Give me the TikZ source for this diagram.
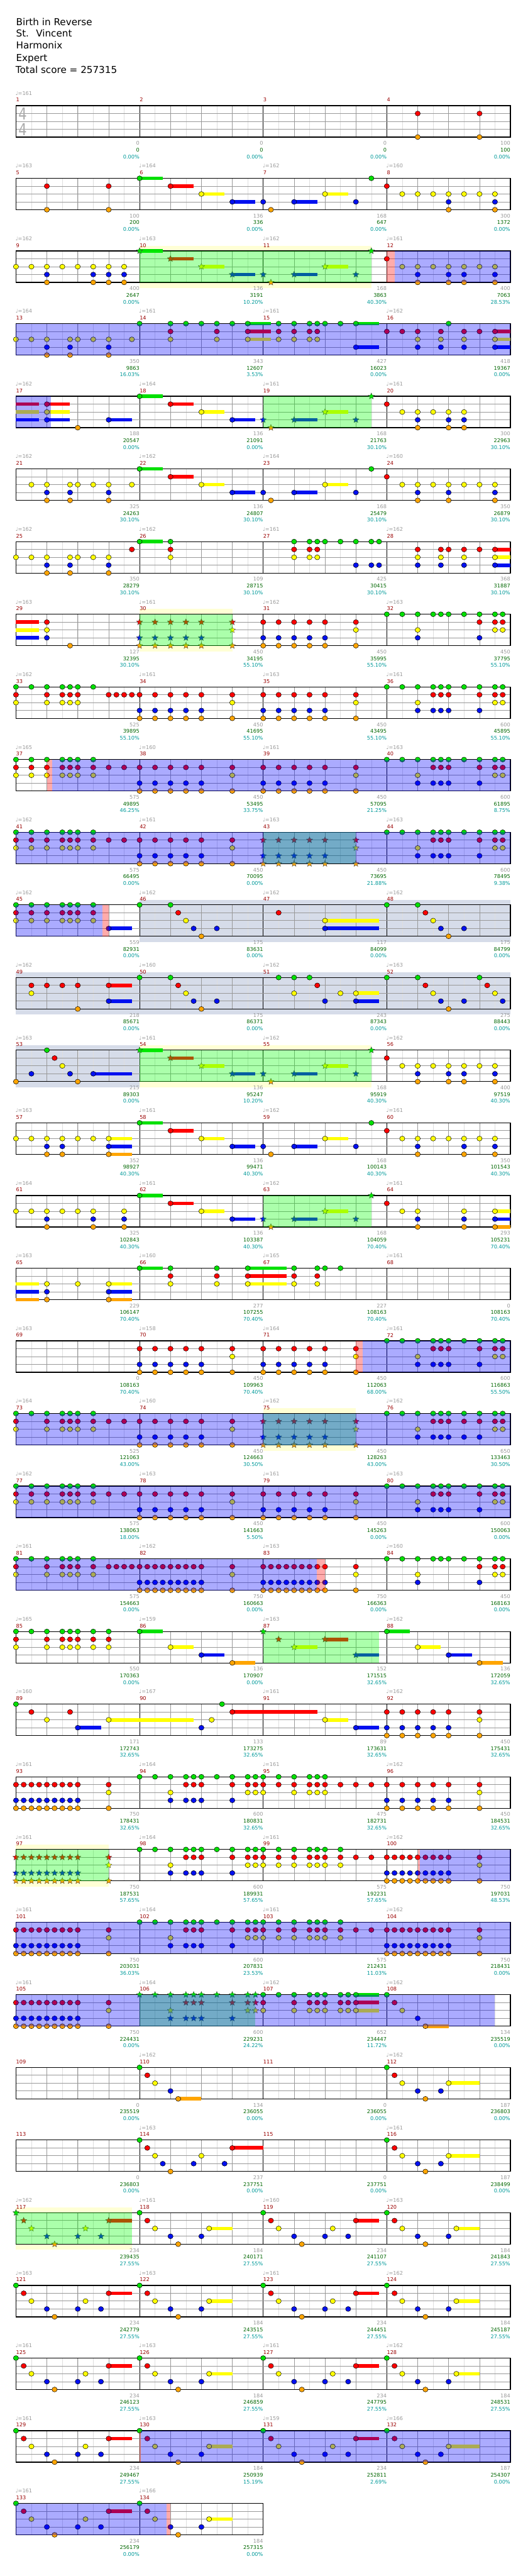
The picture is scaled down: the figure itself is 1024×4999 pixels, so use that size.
\documentclass[tikz,border=0pt]{standalone}
\usepackage{fontspec}
\setmainfont{DejaVu Sans}
\usetikzlibrary{shapes.geometric}

\definecolor{c0}{HTML}{00E000}
\definecolor{c1}{HTML}{FF0000}
\definecolor{c2}{HTML}{FFFF00}
\definecolor{c3}{HTML}{0010F0}
\definecolor{c4}{HTML}{FFA500}
\definecolor{gristxt}{HTML}{999999}
\definecolor{rojotxt}{HTML}{990000}
\definecolor{verdetxt}{HTML}{006600}
\definecolor{cian}{HTML}{009999}
\definecolor{amarillo}{HTML}{FFFFD5}
\definecolor{pizarra}{HTML}{D6DCE9}

% fila actual
\newcommand{\fila}[1]{\pgfmathsetmacro{\ytop}{205+141*(#1-1)}}
% pentagrama de #1 compases
\newcommand{\pista}[1]{%
  \pgfmathtruncatemacro{\nl}{8*#1}%
  \foreach \i in {1,...,\nl} {\draw[octavo] (31+30*\i,\ytop) -- ++(0,61);}%
  \pgfmathtruncatemacro{\nl}{4*#1}%
  \foreach \i in {1,...,\nl} {\draw[negra] (31+60*\i,\ytop) -- ++(0,61);}%
  \foreach \i in {1,...,#1} {\draw[barra] (31+240*\i,\ytop) -- ++(0,61);}%
  \foreach \cc in {1,2,3} {\draw[carril] (31,\ytop+15.25*\cc) -- ++(240*#1,0);}%
  \draw[marco] (31,\ytop) rectangle ++(240*#1,61);%
}
% notas, estrellas y notas largas (carril 0..4, posicion en semicorcheas)
\newcommand{\notas}[2]{\foreach \px in {#2} {\node[nota, fill=c#1] at (31+15*\px,\ytop+15.25*#1) {};}}
\newcommand{\estrellas}[2]{\foreach \px in {#2} {\node[estrella, fill=c#1] at (31+15*\px,\ytop+15.25*#1) {};}}
\newcommand{\sus}[3]{\fill[c#1] (31+15*#2,\ytop+15.25*#1-3.5) rectangle ++(15*#3,7);}
% zonas
\newcommand{\zona}[3]{\fill[#1] (31+15*#2,\ytop) rectangle (31+15*#3,\ytop+61);}
\newcommand{\bandaod}[2]{\fill[amarillo] (31+15*#1,\ytop-10) rectangle (31+15*#2,\ytop);
  \fill[amarillo] (31+15*#1,\ytop+61) rectangle (31+15*#2,\ytop+72);}
\newcommand{\bandagris}[2]{\fill[pizarra] (31+15*#1,\ytop-10) rectangle (31+15*#2,\ytop+72);}
% textos de cada compas
\newcommand{\compas}{%
  \node[numc] at (31+240*\j,\ytop-11) {\nc};
  \ifx\tp\empty\else\node[tempo] at (30+240*\j,\ytop-24) {♩=\tp};\fi
  \node[pgris] at (271+240*\j,\ytop+73) {\ng};
  \node[pverde] at (271+240*\j,\ytop+86) {\pu};
  \node[pcian] at (271+240*\j,\ytop+99) {\pc\%};
}
\newcommand{\compases}[1]{\foreach \j/\nc/\tp/\ng/\pu/\pc in {#1} {\compas}}

\begin{document}
\begin{tikzpicture}[
    x=0.75pt, y=-0.75pt,
    every node/.style={inner sep=0pt, font=\fontsize{7.5}{9}\selectfont},
    octavo/.style={draw=black!13, line width=0.4pt},
    negra/.style={draw=black!40, line width=0.5pt},
    barra/.style={draw=black, line width=0.5pt},
    carril/.style={draw=black!40, line width=0.8pt},
    marco/.style={draw=black, line width=1.1pt},
    nota/.style={ellipse, draw=black, line width=0.45pt, minimum width=7.6pt, minimum height=7.2pt},
    estrella/.style={star, star points=5, star point ratio=2.2, draw=black!75, line width=0.35pt, minimum size=9.5pt},
    od/.style={fill=green, fill opacity=0.33},
    activo/.style={fill=blue, fill opacity=0.33},
    rosa/.style={fill=red, fill opacity=0.33},
    numc/.style={text=rojotxt, anchor=west},
    tempo/.style={text=gristxt, anchor=west},
    pgris/.style={text=gristxt, anchor=east},
    pverde/.style={text=verdetxt, anchor=east},
    pcian/.style={text=cian, anchor=east},
    titulo/.style={anchor=base west, font=\fontsize{13.9}{16}\selectfont},
    compasillo/.style={text=black!33, font=\fontsize{24}{24}\selectfont}
  ]
  \useasboundingbox (0,0) rectangle (1024,4999);

  % Cabecera
  \node[titulo] (cancion) at (31,49) {Birth in Reverse};
  \node[titulo] (artista) at (31,72) {St.~ Vincent};
  \node[titulo] (autor) at (31,95) {Harmonix};
  \node[titulo] (nivel) at (31,119) {Expert};
  \node[titulo] (total) at (30,142) {Total score = 257315};

  % Fila 1
  \fila{1}
  \pista{4}
  \node[compasillo] (arriba) at (44,\ytop+16) {\scalebox{0.8}[1]{4}};
  \node[compasillo] (abajo) at (44,\ytop+46) {\scalebox{0.8}[1]{4}};
  \notas{1}{52,60}
  \notas{4}{52,60}
  \compases{0/1/161/0/0/0.00, 1/2//0/0/0.00, 2/3//0/0/0.00, 3/4//100/100/0.00}

  % Fila 2
  \fila{2}
  \pista{4}
  \sus{0}{16}{3} \sus{1}{20}{3} \sus{2}{24}{3} \sus{2}{40}{3} \sus{3}{28}{3} \sus{3}{36}{3}
  \notas{0}{16,46}
  \notas{1}{4,12,20,48}
  \notas{2}{24,40,50,52,54,56,58,60,62}
  \notas{3}{28,32,36,44,56,62}
  \notas{4}{4,12,33,56,62}
  \compases{0/5/163/100/200/0.00, 1/6/164/136/336/0.00, 2/7/162/168/647/0.00, 3/8/160/300/1372/0.00}

  % Fila 3
  \fila{3}
  \bandaod{16}{46}
  \pista{4}
  \sus{0}{16}{3} \sus{1}{20}{3} \sus{2}{24}{3} \sus{2}{40}{3} \sus{3}{28}{3} \sus{3}{36}{3}
  \notas{1}{48}
  \notas{2}{0,2,4,6,8,10,12,14,50,52,54,56,58,60,62}
  \notas{3}{4,10,12,14,52,56,58,62}
  \notas{4}{4,10,12,14,52,56,58,62}
  \estrellas{0}{16,46} \estrellas{1}{20} \estrellas{2}{24,40} \estrellas{3}{28,32,36,44} \estrellas{4}{33}
  \zona{od}{16}{46} \zona{rosa}{48}{49} \zona{activo}{49}{64}
  \compases{0/9/162/400/2647/0.00, 1/10/163/136/3191/10.20, 2/11/162/168/3863/40.30, 3/12/161/400/7063/28.53}

  % Fila 4
  \fila{4}
  \pista{4}
  \sus{0}{30}{3} \sus{0}{44}{3} \sus{1}{30}{3} \sus{1}{62}{2} \sus{2}{30}{3} \sus{2}{62}{2} \sus{3}{44}{3} \sus{3}{62}{2}
  \notas{0}{16,20,22,24,26,28,30,34,36,38,39,40,42,44,56}
  \notas{1}{20,26,30,34,36,38,39,48,50,52,55,58,60,62}
  \notas{2}{0,2,4,7,8,10,12,15,20,26,30,34,36,38,39,52,55,58,62}
  \notas{3}{4,7,12,44,52,55,58,62}
  \notas{4}{4,7,12}
  \zona{activo}{0}{64}
  \compases{0/13/164/350/9863/16.03, 1/14/161/343/12607/3.53, 2/15/161/427/16023/0.00, 3/16/162/418/19367/0.00}

  % Fila 5
  \fila{5}
  \pista{4}
  \sus{1}{0}{3} \sus{2}{0}{3} \sus{3}{0}{3} \sus{1}{4}{3} \sus{2}{4}{3} \sus{3}{4}{3} \sus{3}{12}{3}
  \sus{0}{16}{3} \sus{1}{20}{3} \sus{2}{24}{3} \sus{3}{28}{3} \sus{3}{36}{3} \sus{2}{40}{3}
  \notas{0}{16}
  \notas{1}{4,20,48}
  \notas{2}{4,24,50,52,54,56,58}
  \notas{3}{4,12,28,52,56,58}
  \notas{4}{8,52,56,58}
  \estrellas{0}{46} \estrellas{2}{40} \estrellas{3}{32,36,44} \estrellas{4}{33}
  \zona{od}{32}{46} \zona{activo}{0}{4.5}
  \compases{0/17/162/188/20547/0.00, 1/18/164/136/21091/0.00, 2/19/161/168/21763/30.10, 3/20/161/300/22963/30.10}

  % Fila 6
  \fila{6}
  \pista{4}
  \sus{0}{16}{3} \sus{1}{20}{3} \sus{2}{24}{3} \sus{2}{40}{3} \sus{3}{28}{3} \sus{3}{36}{3}
  \notas{0}{16,46}
  \notas{1}{20,48}
  \notas{2}{2,4,7,8,10,12,15,24,40,50,52,54,56,58,60,62}
  \notas{3}{4,7,12,28,32,36,44,52,56,62}
  \notas{4}{4,7,12,33,52,56,62}
  \compases{0/21/162/325/24263/30.10, 1/22/162/136/24807/30.10, 2/23/164/168/25479/30.10, 3/24/160/350/26879/30.10}

  % Fila 7
  \fila{7}
  \pista{4}
  \sus{0}{16}{3} \sus{1}{62}{2} \sus{2}{62}{2} \sus{3}{62}{2}
  \notas{0}{16,20,36,38,39,40,42,44,46,47}
  \notas{1}{15,20,36,38,39,52,55,56,58,60,62}
  \notas{2}{0,2,4,7,8,10,12,20,36,38,39,52,55,58,62}
  \notas{3}{4,7,12,44,46,47,52,55,58,62}
  \notas{4}{4,7,12}
  \compases{0/25/162/350/28279/30.10, 1/26/162/109/28715/30.10, 2/27/161/425/30415/30.10, 3/28/162/368/31887/30.10}

  % Fila 8
  \fila{8}
  \bandaod{16}{28}
  \pista{4}
  \sus{1}{0}{3} \sus{2}{0}{3} \sus{3}{0}{3}
  \notas{0}{48,50,52,54,55,56,58,60,62,63}
  \notas{1}{4,32,34,36,38,40,44,60,62,63}
  \notas{2}{4,44,52,62,63}
  \notas{3}{4,32,34,36,38,40,52,60}
  \notas{4}{7,32,34,36,38,40,44}
  \estrellas{1}{16,18,20,22,24,28} \estrellas{2}{28} \estrellas{3}{16,18,20,22,24} \estrellas{4}{16,18,20,22,24,28}
  \zona{od}{16}{28}
  \compases{0/29/163/127/32395/30.10, 1/30/161/450/34195/55.10, 2/31/162/450/35995/55.10, 3/32/163/450/37795/55.10}

  % Fila 9
  \fila{9}
  \pista{4}
  \notas{0}{0,2,4,6,7,8,10,48,50,52,54,55,56,58,60,62,63}
  \notas{1}{0,4,6,7,8,12,13,14,15,16,18,20,22,24,28,32,34,36,38,40,44,54,55,56,60,62,63}
  \notas{2}{0,4,6,7,8,28,44,52,62,63}
  \notas{3}{16,18,20,22,24,32,34,36,38,40,52,54,55,56,60}
  \notas{4}{16,18,20,22,24,28,32,34,36,38,40,44}
  \compases{0/33/162/525/39895/55.10, 1/34/161/450/41695/55.10, 2/35/163/450/43495/55.10, 3/36/161/600/45895/55.10}

  % Fila 10
  \fila{10}
  \pista{4}
  \notas{0}{0,2,4,6,7,8,10,48,50,52,54,55,56,58,60,62,63}
  \notas{1}{0,2,4,6,7,8,10,12,14,16,18,20,22,24,28,32,34,36,38,40,44,54,55,56,60,62,63}
  \notas{2}{0,2,4,6,7,8,10,28,44,52,62,63}
  \notas{3}{16,18,20,22,24,32,34,36,38,40,52,54,55,56,60}
  \notas{4}{16,18,20,22,24,28,32,34,36,38,40,44}
  \zona{rosa}{4}{4.65} \zona{activo}{4.65}{64}
  \compases{0/37/165/575/49895/46.25, 1/38/160/450/53495/33.75, 2/39/161/450/57095/21.25, 3/40/163/600/61895/8.75}

  % Fila 11
  \fila{11}
  \pista{4}
  \notas{0}{0,2,4,6,7,8,10,48,50,52,54,55,56,58,60,62,63}
  \notas{1}{0,2,4,6,7,8,10,12,14,16,18,20,22,24,28,54,55,56,60,62,63}
  \notas{2}{0,2,4,6,7,8,10,28,52,62,63}
  \notas{3}{16,18,20,22,24,52,54,55,56,60}
  \notas{4}{16,18,20,22,24,28}
  \estrellas{1}{32,34,36,38,40,44} \estrellas{2}{44} \estrellas{3}{32,34,36,38,40} \estrellas{4}{32,34,36,38,40,44}
  \zona{od}{32}{44} \zona{activo}{0}{64}
  \compases{0/41/162/575/66495/0.00, 1/42/161/450/70095/0.00, 2/43/163/450/73695/21.88, 3/44/163/600/78495/9.38}

  % Fila 12
  \fila{12}
  \bandagris{16}{64}
  \pista{4}
  \sus{3}{12}{3} \sus{2}{40}{7} \sus{3}{40}{7}
  \notas{0}{0,2,4,6,7,8,10,16,20,48,52}
  \notas{1}{0,2,4,6,7,8,10,21,34,53}
  \notas{2}{0,2,4,6,7,8,10,22,40,54}
  \notas{3}{12,23,26,40,55,58}
  \notas{4}{24,56}
  \zona{activo}{0}{11.2} \zona{rosa}{11.2}{12}
  \compases{0/45/162/559/82931/0.00, 1/46/162/175/83631/0.00, 2/47/162/117/84099/0.00, 3/48/162/175/84799/0.00}

  % Fila 13
  \fila{13}
  \bandagris{0}{64}
  \pista{4}
  \sus{1}{12}{3} \sus{3}{12}{3} \sus{2}{44}{3} \sus{3}{44}{3}
  \notas{0}{16,20,34,36,38,48,52,60}
  \notas{1}{2,4,6,8,12,21,39,53,61}
  \notas{2}{2,22,36,42,44,54,62}
  \notas{3}{12,23,26,40,44,55,58,63}
  \notas{4}{8,24,56}
  \compases{0/49/162/218/85671/0.00, 1/50/160/175/86371/0.00, 2/51/162/243/87343/0.00, 3/52/163/275/88443/0.00}

  % Fila 14
  \fila{14}
  \bandagris{0}{16} \bandaod{16}{46}
  \pista{4}
  \sus{3}{10}{5} \sus{0}{16}{3} \sus{1}{20}{3} \sus{2}{24}{3} \sus{2}{40}{3} \sus{3}{28}{3} \sus{3}{36}{3}
  \notas{0}{4}
  \notas{1}{5,48}
  \notas{2}{6,50,52,54,56,58,60,62}
  \notas{3}{2,7,10,52,56,58,62}
  \notas{4}{0,8,52,56,58,62}
  \estrellas{0}{16,46} \estrellas{1}{20} \estrellas{2}{24,40} \estrellas{3}{28,32,36,44} \estrellas{4}{33}
  \zona{od}{16}{46}
  \compases{0/53/163/215/89303/0.00, 1/54/161/136/95247/10.20, 2/55/162/168/95919/40.30, 3/56/162/400/97519/40.30}

  % Fila 15
  \fila{15}
  \pista{4}
  \sus{2}{12}{3} \sus{3}{12}{3} \sus{4}{12}{3} \sus{0}{16}{3} \sus{1}{20}{3} \sus{2}{24}{3} \sus{3}{28}{3} \sus{3}{36}{3} \sus{2}{40}{3}
  \notas{0}{16,46}
  \notas{1}{20,48}
  \notas{2}{0,2,4,6,8,10,12,24,40,50,52,54,56,58,60,62}
  \notas{3}{4,6,12,28,32,36,44,52,58,62}
  \notas{4}{4,6,12,33,52,58,62}
  \compases{0/57/163/352/98927/40.30, 1/58/161/136/99471/40.30, 2/59/162/168/100143/40.30, 3/60/161/350/101543/40.30}

  % Fila 16
  \fila{16}
  \pista{4}
  \sus{0}{16}{3} \sus{1}{20}{3} \sus{2}{24}{3} \sus{2}{40}{3} \sus{3}{28}{3} \sus{3}{36}{3} \sus{2}{62}{2} \sus{3}{62}{2} \sus{4}{62}{2}
  \notas{0}{16}
  \notas{1}{20,48}
  \notas{2}{0,2,4,6,8,10,14,24,50,52,58,62}
  \notas{3}{4,10,14,28,52,58,62}
  \notas{4}{4,10,14,52,58,62}
  \estrellas{0}{46} \estrellas{2}{40} \estrellas{3}{32,36,44} \estrellas{4}{33}
  \zona{od}{32}{46}
  \compases{0/61/164/325/102843/40.30, 1/62/161/136/103387/40.30, 2/63/162/168/104059/70.40, 3/64/161/293/105231/70.40}

  % Fila 17
  \fila{17}
  \pista{4}
  \sus{2}{0}{3} \sus{3}{0}{3} \sus{4}{0}{3} \sus{2}{12}{3} \sus{3}{12}{3} \sus{4}{12}{3}
  \sus{0}{16}{3} \sus{0}{30}{5} \sus{1}{30}{5} \sus{2}{30}{5}
  \notas{0}{16,20,26,30,36,39,40,42}
  \notas{1}{20,26,30,36,39}
  \notas{2}{4,8,12,20,26,30,36,39}
  \notas{3}{4,12}
  \notas{4}{4,12}
  \compases{0/65/163/229/106147/70.40, 1/66/160/277/107255/70.40, 2/67/165/227/108163/70.40, 3/68/161/0/108163/70.40}

  % Fila 18
  \fila{18}
  \pista{4}
  \notas{0}{48,50,52,54,55,56,58,60,62,63}
  \notas{1}{16,18,20,22,24,28,32,34,36,38,40,44,54,55,56,60,62,63}
  \notas{2}{28,44,52,62,63}
  \notas{3}{16,18,20,22,24,32,34,36,38,40,52,54,55,56,60}
  \notas{4}{16,18,20,22,24,28,32,34,36,38,40,44}
  \zona{rosa}{44}{44.9} \zona{activo}{44.9}{64}
  \compases{0/69/163/0/108163/70.40, 1/70/158/450/109963/70.40, 2/71/164/450/112063/68.00, 3/72/161/600/116863/55.50}

  % Fila 19
  \fila{19}
  \bandaod{32}{44}
  \pista{4}
  \notas{0}{0,2,4,6,7,8,10,48,50,52,54,55,56,58,60,62,63}
  \notas{1}{0,4,6,7,8,10,12,14,16,18,20,22,24,28,54,55,56,58,60,62,63}
  \notas{2}{0,4,6,7,8,10,28,52,62,63}
  \notas{3}{16,18,20,22,24,52,54,55,56,58,60}
  \notas{4}{16,18,20,22,24,28}
  \estrellas{1}{32,34,36,38,40,44} \estrellas{2}{44} \estrellas{3}{32,34,36,38,40} \estrellas{4}{32,34,36,38,40,44}
  \zona{od}{32}{44} \zona{activo}{0}{64}
  \compases{0/73/164/525/121063/43.00, 1/74/160/450/124663/30.50, 2/75/162/450/128263/43.00, 3/76/162/650/133463/30.50}

  % Fila 20
  \fila{20}
  \pista{4}
  \notas{0}{0,2,4,6,7,8,10,48,50,52,54,55,56,58,60,62,63}
  \notas{1}{0,2,4,6,7,8,10,12,14,16,18,20,22,24,28,32,34,36,38,40,44,54,55,56,60,62,63}
  \notas{2}{0,2,4,6,7,8,10,28,44,52,62,63}
  \notas{3}{16,18,20,22,24,32,34,36,38,40,52,54,55,56,60}
  \notas{4}{16,18,20,22,24,28,32,34,36,38,40,44}
  \zona{activo}{0}{64}
  \compases{0/77/162/575/138063/18.00, 1/78/163/450/141663/5.50, 2/79/161/450/145263/0.00, 3/80/163/600/150063/0.00}

  % Fila 21
  \fila{21}
  \pista{4}
  \notas{0}{0,2,4,6,7,8,10,48,50,52,54,55,56,58,60,62,63}
  \notas{1}{0,4,6,7,8,10,12,13,14,15,16,17,18,19,20,21,22,23,24,28,32,33,34,35,36,37,38,39,40,44,60,62,63}
  \notas{2}{0,4,6,7,8,10,28,44,52,62,63}
  \notas{3}{16,17,18,19,20,21,22,23,24,32,33,34,35,36,37,38,39,40,52,60}
  \notas{4}{16,17,18,19,20,21,22,23,24,28,32,33,34,35,36,37,38,39,40,44}
  \zona{activo}{0}{38.9} \zona{rosa}{38.9}{40}
  \compases{0/81/161/575/154663/0.00, 1/82/162/750/160663/0.00, 2/83/163/750/166363/0.00, 3/84/160/450/168163/0.00}

  % Fila 22
  \fila{22}
  \pista{4}
  \sus{0}{16}{3} \sus{2}{20}{3} \sus{3}{24}{3} \sus{4}{28}{3} \sus{2}{36}{3} \sus{1}{40}{3} \sus{3}{44}{3}
  \sus{0}{48}{3} \sus{2}{52}{3} \sus{3}{56}{3} \sus{4}{60}{3}
  \notas{0}{0,2,4,6,7,8,10,12,16,48}
  \notas{1}{0,4,6,7,8,10,12}
  \notas{2}{0,4,6,7,8,10,12,20,52}
  \notas{3}{24,56}
  \notas{4}{28,60}
  \estrellas{0}{32} \estrellas{1}{34,40} \estrellas{2}{36} \estrellas{3}{44}
  \zona{od}{32}{47}
  \compases{0/85/165/550/170363/0.00, 1/86/159/136/170907/0.00, 2/87/163/152/171515/32.65, 3/88/162/136/172059/32.65}

  % Fila 23
  \fila{23}
  \pista{4}
  \sus{3}{8}{3} \sus{2}{12}{11} \sus{1}{28}{11} \sus{2}{40}{3} \sus{3}{44}{3}
  \notas{0}{0,26.67}
  \notas{1}{2,7,28,48,50,52,54,56,60}
  \notas{2}{4,12,25.33,40,60}
  \notas{3}{8,24,44,48,50,52,54,56}
  \notas{4}{48,50,52,54,56,60}
  \compases{0/89/160/171/172743/32.65, 1/90/167/133/173275/32.65, 2/91/161/89/173631/32.65, 3/92/162/450/175431/32.65}

  % Fila 24
  \fila{24}
  \pista{4}
  \notas{0}{16,18,20,22,23,24,26,28,30,31,32,34,36,38,39,40}
  \notas{1}{0,1,2,3,4,5,6,7,8,12,22,23,24,28,30,31,32,34,36,38,39,40,42,44,46,48,50,52,54,56,60}
  \notas{2}{12,20,30,31,32,36,38,39,40,60}
  \notas{3}{0,1,2,3,4,5,6,7,8,20,22,23,24,28,48,50,52,54,56}
  \notas{4}{0,1,2,3,4,5,6,7,8,12,48,50,52,54,56,60}
  \compases{0/93/161/750/178431/32.65, 1/94/164/600/180831/32.65, 2/95/161/475/182731/32.65, 3/96/162/450/184531/32.65}

  % Fila 25
  \fila{25}
  \bandaod{0}{12}
  \pista{4}
  \notas{0}{16,18,20,22,23,24,26,28,30,31,32,34,36,38,39,40,42}
  \notas{1}{22,23,24,28,30,31,32,34,36,38,39,40,42,44,46,48,49,50,51,52,53,54,55,56,60}
  \notas{2}{20,30,31,32,34,36,38,39,40,42,60}
  \notas{3}{20,22,23,24,28,48,49,50,51,52,53,54,55,56}
  \notas{4}{48,49,50,51,52,53,54,55,56,60}
  \estrellas{1}{0,1,2,3,4,5,6,7,8,12} \estrellas{2}{12} \estrellas{3}{0,1,2,3,4,5,6,7,8} \estrellas{4}{0,1,2,3,4,5,6,7,8,12}
  \zona{od}{0}{12} \zona{rosa}{52}{52.3} \zona{activo}{52.3}{64}
  \compases{0/97/161/750/187531/57.65, 1/98/164/600/189931/57.65, 2/99/161/575/192231/57.65, 3/100/162/750/197031/48.53}

  % Fila 26
  \fila{26}
  \pista{4}
  \notas{0}{16,18,20,22,23,24,26,28,30,31,32,34,36,38,39,40,42}
  \notas{1}{0,1,2,3,4,5,6,7,8,12,22,23,24,28,30,31,32,34,36,38,39,40,42,44,46,48,49,50,51,52,53,54,55,56,60}
  \notas{2}{12,20,30,31,32,34,36,38,39,40,42,60}
  \notas{3}{0,1,2,3,4,5,6,7,8,20,22,23,24,28,48,49,50,51,52,53,54,55,56}
  \notas{4}{0,1,2,3,4,5,6,7,8,12,48,49,50,51,52,53,54,55,56,60}
  \zona{activo}{0}{64}
  \compases{0/101/161/750/203031/36.03, 1/102/164/600/207831/23.53, 2/103/161/575/212431/11.03, 3/104/162/750/218431/0.00}

  % Fila 27
  \fila{27}
  \pista{4}
  \sus{0}{44}{3} \sus{1}{44}{3} \sus{2}{44}{3} \sus{4}{53}{3}
  \notas{0}{32,34,36,38,39,40,42,43,44,48}
  \notas{1}{0,1,2,3,4,5,6,7,8,12,32,36,38,39,40,42,43,44,49}
  \notas{2}{12,32,36,38,39,40,42,43,44,50}
  \notas{3}{0,1,2,3,4,5,6,7,8,52}
  \notas{4}{0,1,2,3,4,5,6,7,8,12,53}
  \estrellas{0}{16,18,20,22,23,24,26,28,30,31} \estrellas{1}{22,23,24,28,30,31} \estrellas{2}{20,30,31} \estrellas{3}{20,22,23,24,28}
  \zona{od}{16}{31} \zona{activo}{0}{62}
  \compases{0/105/161/750/224431/0.00, 1/106/164/600/229231/24.22, 2/107/162/652/234447/11.72, 3/108/162/134/235519/0.00}

  % Fila 28
  \fila{28}
  \pista{4}
  \sus{4}{21}{3} \sus{2}{56}{4}
  \notas{0}{16,48}
  \notas{1}{17,49}
  \notas{2}{18,50,56}
  \notas{3}{20,52,55}
  \notas{4}{21,53}
  \compases{0/109//0/235519/0.00, 1/110/162/134/236055/0.00, 2/111//0/236055/0.00, 3/112/162/187/236803/0.00}

  % Fila 29
  \fila{29}
  \pista{4}
  \sus{1}{28}{4} \sus{2}{56}{4}
  \notas{0}{16,48}
  \notas{1}{17,28,49}
  \notas{2}{18,24,50,56}
  \notas{3}{19,23,27,52,55}
  \notas{4}{20,53}
  \compases{0/113//0/236803/0.00, 1/114/163/237/237751/0.00, 2/115//0/237751/0.00, 3/116/161/187/238499/0.00}

  % Fila 30
  \fila{30}
  \bandaod{0}{15}
  \pista{4}
  \sus{1}{12}{3} \sus{2}{25}{3} \sus{1}{44}{3} \sus{2}{57}{3}
  \notas{0}{16,32,48}
  \notas{1}{17,33,44,49}
  \notas{2}{18,25,34,41,50,57}
  \notas{3}{20,24,36,40,43,52,56}
  \notas{4}{21,37,53}
  \estrellas{0}{0} \estrellas{1}{1,12} \estrellas{2}{2,9} \estrellas{3}{4,8,11} \estrellas{4}{5}
  \zona{od}{0}{15}
  \compases{0/117/162/234/239435/27.55, 1/118/161/184/240171/27.55, 2/119/160/234/241107/27.55, 3/120/163/184/241843/27.55}

  % Fila 31
  \fila{31}
  \pista{4}
  \sus{1}{12}{3} \sus{2}{25}{3} \sus{1}{44}{3} \sus{2}{57}{3}
  \notas{0}{0,16,32,48}
  \notas{1}{1,12,17,33,44,49}
  \notas{2}{2,9,18,25,34,41,50,57}
  \notas{3}{4,8,11,20,24,36,40,43,52,56}
  \notas{4}{5,21,37,53}
  \compases{0/121/163/234/242779/27.55, 1/122/163/184/243515/27.55, 2/123/161/234/244451/27.55, 3/124/162/184/245187/27.55}

  % Fila 32
  \fila{32}
  \pista{4}
  \sus{1}{12}{3} \sus{2}{25}{3} \sus{1}{44}{3} \sus{2}{57}{3}
  \notas{0}{0,16,32,48}
  \notas{1}{1,12,17,33,44,49}
  \notas{2}{2,9,18,25,34,41,50,57}
  \notas{3}{4,8,11,20,24,36,40,43,52,56}
  \notas{4}{5,21,37,53}
  \compases{0/125/161/234/246123/27.55, 1/126/163/184/246859/27.55, 2/127/161/234/247795/27.55, 3/128/162/184/248531/27.55}

  % Fila 33
  \fila{33}
  \pista{4}
  \sus{1}{12}{3} \sus{2}{25}{3} \sus{1}{44}{3} \sus{2}{56}{4}
  \notas{0}{0,16,32,48}
  \notas{1}{1,12,17,33,44,49}
  \notas{2}{2,9,18,25,34,41,50,56}
  \notas{3}{4,8,11,20,24,36,40,43,52,55}
  \notas{4}{5,21,37,53}
  \zona{rosa}{16}{16.15} \zona{activo}{16.15}{64}
  \compases{0/129/161/234/249467/27.55, 1/130/163/184/250939/15.19, 2/131/159/234/252811/2.69, 3/132/166/187/254307/0.00}

  % Fila 34
  \fila{34}
  \pista{2}
  \sus{1}{12}{3} \sus{2}{25}{3}
  \notas{0}{0,16}
  \notas{1}{1,12,17}
  \notas{2}{2,9,18,25}
  \notas{3}{4,8,11,20,24}
  \notas{4}{5,21}
  \zona{activo}{0}{19.5} \zona{rosa}{19.5}{20}
  \compases{0/133/161/234/256179/0.00, 1/134/166/184/257315/0.00}

\end{tikzpicture}
\end{document}
